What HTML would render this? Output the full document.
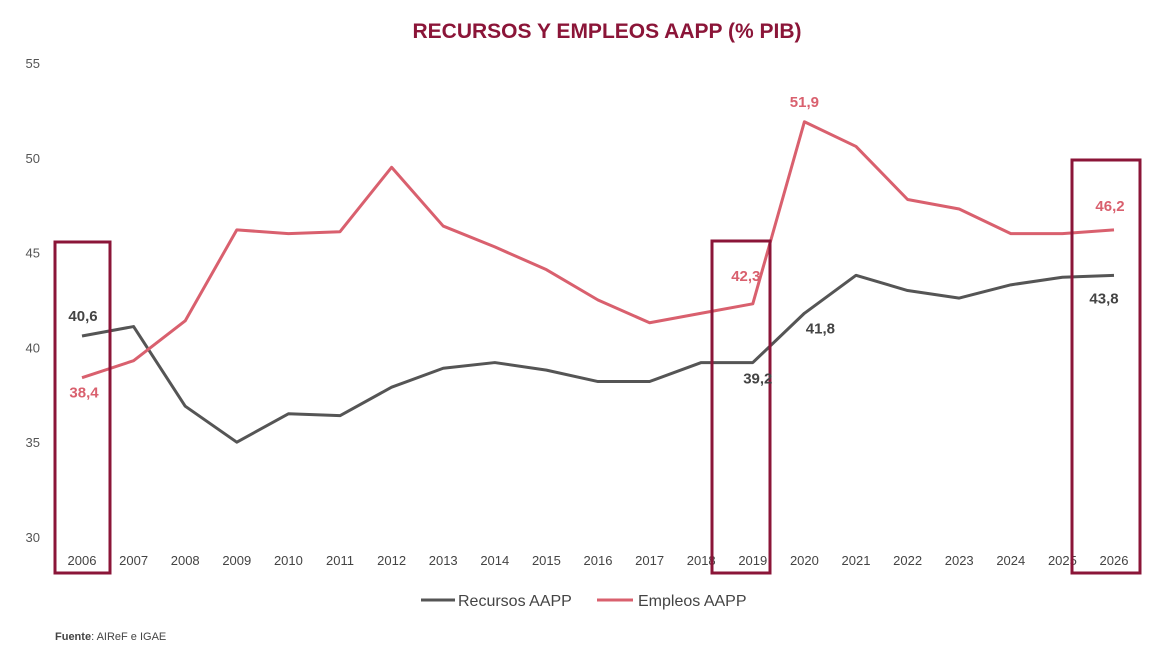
<!DOCTYPE html>
<html><head><meta charset="utf-8"><style>
body{margin:0;background:#fff;font-family:"Liberation Sans",sans-serif}
svg text{font-family:"Liberation Sans",sans-serif}
</style></head><body>
<svg id="c" width="1171" height="660">
<text x="607" y="38" text-anchor="middle" font-size="21" font-weight="bold" fill="#8b1538">RECURSOS Y EMPLEOS AAPP (% PIB)</text>
<g id="yt"></g><g id="xt"></g><g id="lines"></g><g id="boxes"></g><g id="labels"></g>
<g>
<line x1="421" y1="600" x2="455" y2="600" stroke="#555" stroke-width="3"/>
<text x="458" y="606" font-size="16" fill="#444">Recursos AAPP</text>
<line x1="597" y1="600" x2="633" y2="600" stroke="#d9606e" stroke-width="3"/>
<text x="638" y="606" font-size="16" fill="#444">Empleos AAPP</text>
</g>
<text x="55" y="640" font-size="11" fill="#444"><tspan font-weight="bold">Fuente</tspan>: AIReF e IGAE</text>
</svg>
<script>
const years=[2006,2007,2008,2009,2010,2011,2012,2013,2014,2015,2016,2017,2018,2019,2020,2021,2022,2023,2024,2025,2026];
const recursos=[40.6,41.1,36.9,35.0,36.5,36.4,37.9,38.9,39.2,38.8,38.2,38.2,39.2,39.2,41.8,43.8,43.0,42.6,43.3,43.7,43.8];
const empleos=[38.4,39.3,41.4,46.2,46.0,46.1,49.5,46.4,45.3,44.1,42.5,41.3,41.8,42.3,51.9,50.6,47.8,47.3,46.0,46.0,46.2];
const yTicks=[30,35,40,45,50,55];
const NS="http://www.w3.org/2000/svg";
const x=i=>82+i*51.6;
const y=v=>537-(v-30)*18.96;
function mk(t,a,p){const e=document.createElementNS(NS,t);for(const k in a)e.setAttribute(k,a[k]);p.appendChild(e);return e;}
const yt=document.getElementById('yt');
yTicks.forEach(v=>{const t=mk('text',{x:40,y:y(v)+5,'text-anchor':'end','font-size':13,fill:'#555'},yt);t.textContent=v;

});
const xt=document.getElementById('xt');
years.forEach((yr,i)=>{const t=mk('text',{x:x(i),y:565,'text-anchor':'middle','font-size':13,fill:'#444'},xt);t.textContent=yr;

});
const lg=document.getElementById('lines');
function line(d,c,n){const p=mk('polyline',{points:d.map((v,i)=>x(i)+','+y(v)).join(' '),fill:'none',stroke:c,'stroke-width':3,'stroke-linejoin':'round'},lg);

}
line(recursos,'#555','recursos-line');
line(empleos,'#d9606e','empleos-line');
const bg=document.getElementById('boxes');
[[0,55,242,110],[13,712,241,770],[20,1072,160,1140]].forEach(b=>{const r=mk('rect',{x:b[1],y:b[2],width:b[3]-b[1],height:573-b[2],fill:'none',stroke:'#8b1538','stroke-width':3},bg);

});
const lb=document.getElementById('labels');
function lab(i,d,dx,dy,c,n){const t=mk('text',{x:x(i)+dx,y:y(d[i])+dy,'text-anchor':'middle','font-size':15,'font-weight':'bold',fill:c},lb);t.textContent=d[i].toFixed(1).replace('.',',');

}
lab(0,recursos,1,-15,'#444','label-recursos-2006');
lab(0,empleos,2,20,'#d9606e','label-empleos-2006');
lab(13,empleos,-7,-23,'#d9606e','label-empleos-2019');
lab(13,recursos,5,21,'#444','label-recursos-2019');
lab(14,recursos,16,20,'#444','label-recursos-2020');
lab(14,empleos,0,-15,'#d9606e','label-empleos-2020');
lab(20,empleos,-4,-19,'#d9606e','label-empleos-2026');
lab(20,recursos,-10,28,'#444','label-recursos-2026');
</script>
</body></html>
